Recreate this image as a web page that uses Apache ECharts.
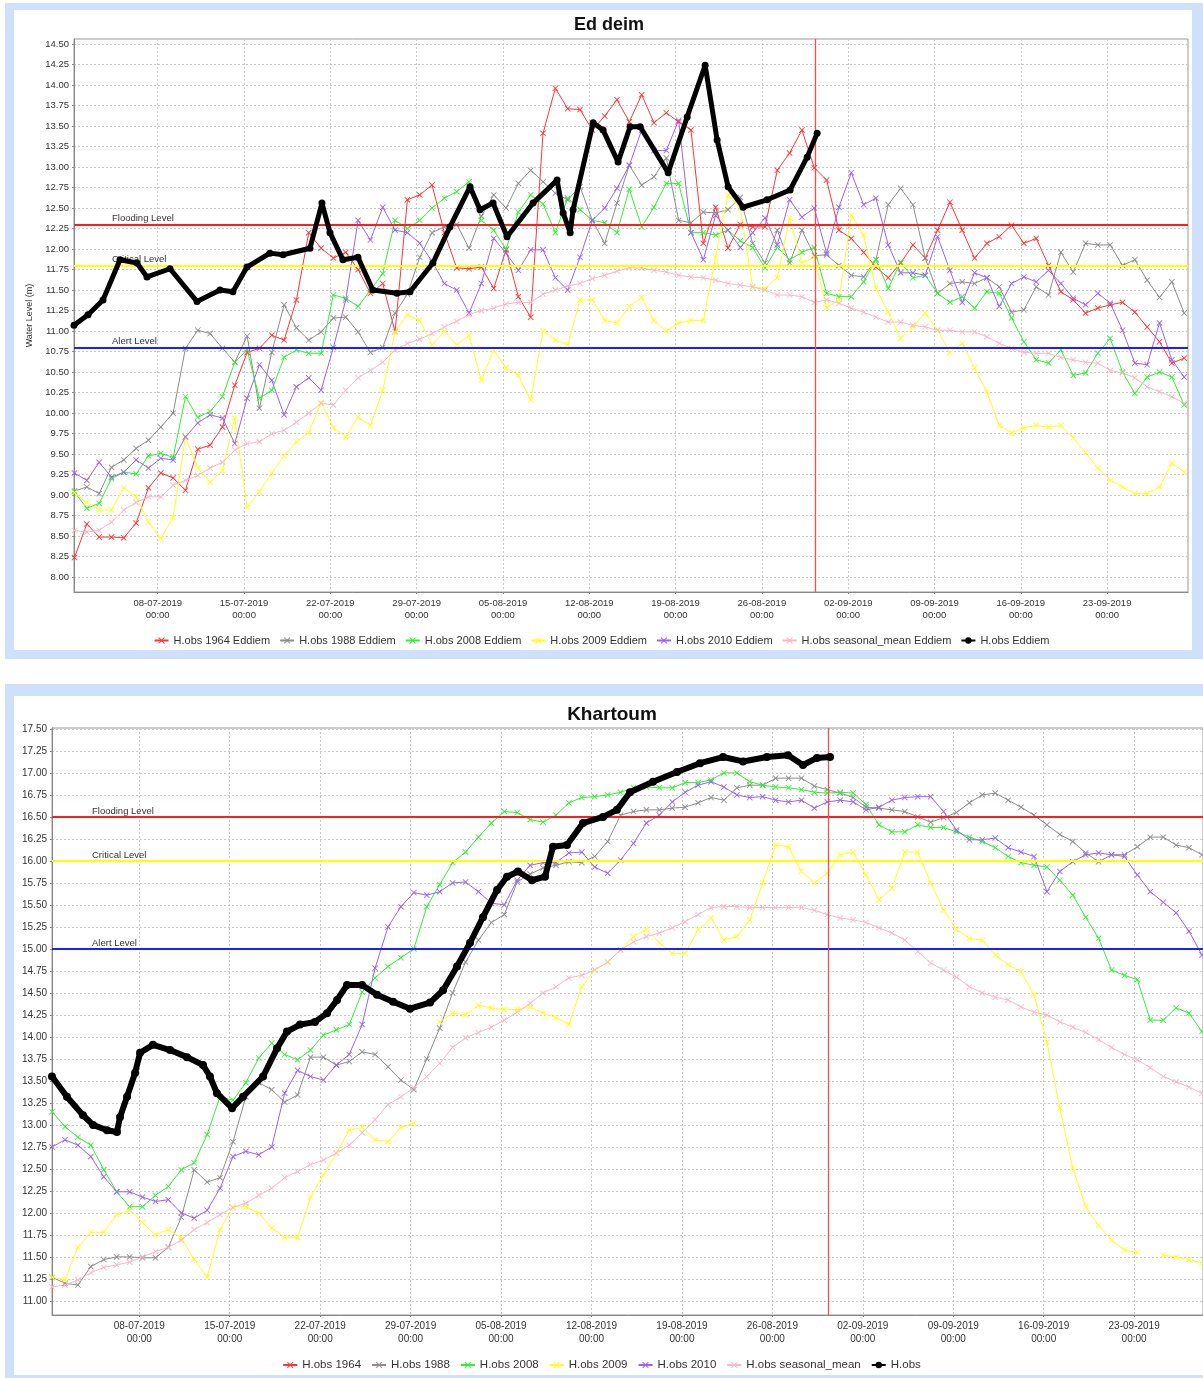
<!DOCTYPE html>
<html>
<head>
<meta charset="utf-8">
<title>Ed deim / Khartoum water levels</title>
<script src="https://cdn.jsdelivr.net/npm/echarts@6/dist/echarts.min.js"></script>
<style>
  html, body { margin: 0; padding: 0; background: #fff; }
  #main { width: 1203px; height: 1378px; }
</style>
</head>
<body>
<div id="main"></div>
<script>
// all times in UTC, day offsets counted from 01-07-2019 00:00
var DAY = 86400000
var START = Date.UTC(2019, 6, 1)
var NOW_MARK = Date.UTC(2019, 7, 30, 7, 12)   // red vertical line (last observation)

// ---------- Ed deim : one reading per day at 06:00, 01-07 .. 29-09 ----------
var edHist1964 = [8.24, 8.65, 8.49, 8.49, 8.48, 8.66, 9.09, 9.27, 9.21, 9.06,
  9.56, 9.61, 9.83, 10.34, 10.74, 10.79, 10.95, 10.89, 11.38, 12.20,
  12.01, 11.89, 11.96, 11.75, 11.46, 11.58, 10.99, 12.60, 12.66, 12.78,
  12.20, 11.77, 11.76, 11.78, 11.52, 11.99, 11.42, 11.17, 13.41, 13.96,
  13.71, 13.70, 13.45, 13.62, 13.82, 13.55, 13.88, 13.54, 13.66, 13.55,
  13.45, 12.07, 12.51, 12.01, 12.30, 12.27, 12.27, 12.96, 13.17, 13.45,
  12.99, 12.84, 12.23, 12.13, 11.96, 11.78, 11.65, 11.83, 12.05, 11.89,
  12.23, 12.57, 12.23, 11.89, 12.07, 12.15, 12.29, 12.07, 12.13, 11.80,
  11.48, 11.38, 11.22, 11.28, 11.32, 11.35, 11.23, 11.05, 10.87, 10.61,
  10.67]
var edHist1988 = [9.05, 9.10, 9.02, 9.34, 9.43, 9.57, 9.67, 9.83, 10.00, 10.79,
  11.01, 10.97, 10.79, 10.62, 10.94, 10.06, 10.74, 11.32, 11.04, 10.89,
  10.99, 11.16, 11.17, 10.99, 10.74, 10.80, 11.22, 11.45, 11.90, 12.20,
  12.27, 12.30, 12.01, 12.40, 12.66, 12.50, 12.80, 12.96, 12.82, 12.68,
  12.60, 12.76, 12.35, 12.07, 12.56, 13.02, 12.78, 12.88, 13.11, 12.35,
  12.32, 12.45, 12.44, 12.48, 12.63, 12.07, 11.83, 12.23, 11.83, 12.23,
  11.92, 11.93, 11.80, 11.68, 11.66, 11.87, 12.54, 12.74, 12.54, 11.89,
  11.46, 11.58, 11.60, 11.58, 11.65, 11.54, 11.23, 11.26, 11.54, 11.44,
  11.96, 11.72, 12.07, 12.05, 12.05, 11.80, 11.87, 11.62, 11.41, 11.60,
  11.22]
var edHist2008 = [9.04, 8.84, 8.90, 9.20, 9.28, 9.26, 9.48, 9.51, 9.46, 10.20,
  9.95, 10.02, 10.20, 10.62, 10.77, 10.18, 10.28, 10.68, 10.77, 10.73,
  10.73, 11.44, 11.40, 11.30, 11.50, 11.70, 12.35, 12.25, 12.35, 12.50,
  12.62, 12.70, 12.82, 12.35, 12.23, 12.00, 12.45, 12.66, 12.55, 12.20,
  12.62, 12.48, 12.35, 12.32, 12.20, 12.73, 12.27, 12.51, 12.80, 12.80,
  12.20, 12.20, 12.17, 12.23, 12.10, 12.02, 11.77, 12.02, 11.87, 11.96,
  12.02, 11.46, 11.42, 11.42, 11.60, 11.87, 11.52, 11.84, 11.65, 11.68,
  11.46, 11.35, 11.42, 11.28, 11.48, 11.46, 11.16, 10.87, 10.65, 10.61,
  10.77, 10.46, 10.49, 10.73, 10.91, 10.50, 10.24, 10.44, 10.50, 10.44,
  10.10]
var edHist2009 = [9.03, 8.91, 8.82, 8.82, 9.09, 8.98, 8.67, 8.47, 8.73, 9.71,
  9.33, 9.16, 9.30, 9.94, 8.85, 9.04, 9.27, 9.48, 9.65, 9.76,
  10.13, 9.82, 9.71, 9.95, 9.85, 10.28, 10.99, 11.20, 11.13, 10.83,
  11.00, 10.83, 10.95, 10.40, 10.77, 10.55, 10.46, 10.16, 11.00, 10.89,
  10.83, 11.38, 11.38, 11.13, 11.10, 11.30, 11.41, 11.13, 11.00, 11.10,
  11.13, 11.13, 11.90, 12.66, 12.50, 11.54, 11.52, 11.65, 12.38, 11.83,
  11.90, 11.29, 11.38, 12.41, 12.17, 11.52, 11.23, 10.91, 11.05, 11.22,
  11.01, 10.74, 10.85, 10.55, 10.26, 9.85, 9.76, 9.82, 9.85, 9.83,
  9.85, 9.70, 9.52, 9.33, 9.18, 9.10, 9.02, 9.02, 9.10, 9.39,
  9.28]
var edHist2010 = [9.27, 9.18, 9.40, 9.22, 9.28, 9.43, 9.33, 9.45, 9.43, 9.71,
  9.88, 9.98, 9.94, 9.63, 10.18, 10.59, 10.40, 9.98, 10.32, 10.43,
  10.28, 10.80, 11.38, 12.35, 12.11, 12.51, 12.23, 12.20, 12.07, 11.85,
  11.58, 11.50, 11.22, 11.58, 12.13, 11.95, 11.74, 11.99, 11.99, 11.65,
  11.50, 11.90, 12.35, 12.50, 12.74, 13.02, 13.45, 13.20, 13.20, 13.57,
  12.20, 11.87, 12.41, 12.23, 12.02, 12.20, 12.38, 12.05, 12.60, 12.39,
  12.50, 11.95, 12.51, 12.93, 12.54, 12.62, 12.05, 11.71, 11.71, 11.68,
  12.15, 11.74, 11.35, 11.71, 11.65, 11.30, 11.58, 11.66, 11.60, 11.74,
  11.58, 11.40, 11.32, 11.46, 11.34, 11.01, 10.61, 10.59, 11.10, 10.65,
  10.44]
var edSeasonal = [8.57, 8.55, 8.57, 8.67, 8.82, 8.91, 8.98, 8.98, 9.12, 9.18,
  9.24, 9.33, 9.40, 9.55, 9.63, 9.65, 9.75, 9.79, 9.89, 10.00,
  10.12, 10.10, 10.28, 10.43, 10.52, 10.62, 10.77, 10.85, 10.90, 10.97,
  11.05, 11.12, 11.20, 11.25, 11.28, 11.33, 11.35, 11.35, 11.45, 11.50,
  11.55, 11.58, 11.64, 11.68, 11.73, 11.77, 11.77, 11.74, 11.72, 11.68,
  11.66, 11.65, 11.62, 11.58, 11.56, 11.54, 11.50, 11.44, 11.44, 11.42,
  11.35, 11.38, 11.34, 11.28, 11.23, 11.17, 11.11, 11.11, 11.07, 11.05,
  11.01, 11.01, 10.99, 10.99, 10.93, 10.85, 10.79, 10.74, 10.73, 10.73,
  10.68, 10.65, 10.62, 10.61, 10.52, 10.49, 10.43, 10.32, 10.26, 10.20,
  10.12]
// H.obs Eddiem : [day offset, level]
var edObs = [[0.21, 11.07], [1.35, 11.20], [2.56, 11.38], [3.94, 11.87], [5.32, 11.83],
  [6.13, 11.66], [8.00, 11.76], [10.19, 11.36], [12.05, 11.50], [13.10, 11.48],
  [14.24, 11.78], [16.10, 11.95], [17.16, 11.93], [19.35, 12.01], [20.32, 12.56],
  [20.97, 12.20], [22.02, 11.87], [23.24, 11.90], [24.45, 11.50], [26.40, 11.46],
  [27.46, 11.48], [29.32, 11.83], [30.70, 12.27], [32.33, 12.76], [33.14, 12.48],
  [34.20, 12.56], [35.33, 12.15], [37.44, 12.56], [39.39, 12.84], [39.88, 12.44],
  [40.45, 12.20], [40.69, 12.48], [42.31, 13.54], [43.12, 13.45], [44.34, 13.06],
  [45.31, 13.49], [46.13, 13.49], [48.40, 12.93], [49.94, 13.61], [51.40, 14.24],
  [52.37, 13.33], [53.26, 12.76], [54.48, 12.51], [56.42, 12.60], [58.29, 12.72],
  [59.67, 13.12], [60.48, 13.41]]

// ---------- Khartoum ----------
var khHist1964 = []
var khHist1988 = [11.27, 11.20, 11.18, 11.39, 11.47, 11.50, 11.50, 11.49, 11.49, 11.61,
  11.95, 12.49, 12.35, 12.40, 12.81, 13.32, 13.48, 13.40, 13.26, 13.34,
  13.77, 13.77, 13.68, 13.72, 13.83, 13.80, 13.66, 13.51, 13.40, 13.75,
  14.10, 14.50, 14.85, 15.10, 15.30, 15.39, 15.76, 15.85, 15.92, 15.95,
  15.99, 15.98, 16.05, 16.22, 16.52, 16.56, 16.58, 16.58, 16.60, 16.61,
  16.66, 16.72, 16.69, 16.83, 16.86, 16.86, 16.94, 16.94, 16.94, 16.85,
  16.81, 16.77, 16.72, 16.61, 16.60, 16.58, 16.56, 16.50, 16.44, 16.49,
  16.55, 16.66, 16.75, 16.77, 16.69, 16.61, 16.52, 16.41, 16.30, 16.22,
  16.09, 15.99, 16.07, 16.07, 16.16, 16.27, 16.27, 16.18, 16.15, 16.07]
var khHist2008 = [13.15, 12.98, 12.86, 12.77, 12.49, 12.24, 12.07, 12.07, 12.20, 12.30,
  12.49, 12.57, 12.89, 13.32, 13.28, 13.48, 13.76, 13.93, 13.80, 13.74,
  13.85, 14.02, 14.08, 14.14, 14.51, 14.67, 14.80, 14.90, 15.00, 15.48,
  15.73, 15.98, 16.10, 16.27, 16.43, 16.56, 16.55, 16.47, 16.44, 16.52,
  16.66, 16.72, 16.73, 16.75, 16.78, 16.83, 16.84, 16.83, 16.83, 16.89,
  16.89, 16.92, 17.00, 17.00, 16.90, 16.86, 16.84, 16.83, 16.81, 16.78,
  16.77, 16.78, 16.77, 16.64, 16.41, 16.33, 16.33, 16.41, 16.38, 16.38,
  16.33, 16.27, 16.22, 16.15, 16.05, 15.98, 15.95, 15.93, 15.78, 15.61,
  15.36, 15.12, 14.76, 14.70, 14.65, 14.19, 14.19, 14.33, 14.27, 14.06]
var khHist2009 = [11.27, 11.24, 11.61, 11.78, 11.78, 11.98, 12.03, 11.89, 11.75, 11.81,
  11.72, 11.47, 11.27, 11.81, 12.07, 12.07, 12.00, 11.83, 11.72, 11.72,
  12.18, 12.43, 12.68, 12.94, 12.97, 12.83, 12.81, 12.97, 13.02, null,
  14.17, 14.27, 14.25, 14.36, 14.33, 14.31, 14.31, 14.34, 14.27, 14.22,
  14.14, 14.57, 14.76, 14.85, 14.99, 15.14, 15.22, 15.07, 14.95, 14.95,
  15.22, 15.35, 15.10, 15.14, 15.33, 15.75, 16.18, 16.16, 15.88, 15.75,
  15.86, 16.07, 16.10, 15.84, 15.56, 15.69, 16.10, 16.10, 15.75, 15.44,
  15.22, 15.12, 15.10, 14.93, 14.82, 14.74, 14.48, 13.94, 13.19, 12.51,
  12.07, 11.86, 11.69, 11.58, 11.55, null, 11.52, 11.50, 11.47, 11.43]
var khHist2010 = [12.75, 12.83, 12.77, 12.64, 12.41, 12.24, 12.24, 12.18, 12.13, 12.15,
  12.00, 11.94, 12.03, 12.28, 12.64, 12.70, 12.66, 12.75, 13.36, 13.62,
  13.55, 13.51, 13.68, 13.80, 14.14, 14.78, 15.25, 15.48, 15.64, 15.61,
  15.65, 15.75, 15.76, 15.65, 15.52, 15.50, 15.78, 15.95, 15.98, 15.98,
  16.09, 16.10, 15.93, 15.86, 16.01, 16.20, 16.43, 16.52, 16.67, 16.78,
  16.86, 16.90, 16.84, 16.75, 16.72, 16.73, 16.69, 16.67, 16.69, 16.60,
  16.67, 16.69, 16.67, 16.58, 16.61, 16.69, 16.72, 16.73, 16.73, 16.56,
  16.35, 16.24, 16.24, 16.26, 16.15, 16.10, 16.05, 15.65, 15.88, 15.99,
  16.07, 16.09, 16.07, 16.05, 15.84, 15.65, 15.53, 15.41, 15.20, 14.93]
var khSeasonal = [11.16, 11.18, 11.24, 11.32, 11.38, 11.41, 11.44, 11.50, 11.56, 11.61,
  11.69, 11.81, 11.89, 11.98, 12.06, 12.11, 12.20, 12.28, 12.40, 12.47,
  12.55, 12.60, 12.68, 12.77, 12.91, 13.06, 13.23, 13.32, 13.42, 13.55,
  13.70, 13.88, 13.99, 14.05, 14.11, 14.19, 14.28, 14.38, 14.50, 14.57,
  14.67, 14.70, 14.76, 14.85, 14.99, 15.08, 15.14, 15.18, 15.24, 15.31,
  15.39, 15.47, 15.48, 15.48, 15.47, 15.47, 15.47, 15.47, 15.47, 15.44,
  15.39, 15.35, 15.33, 15.30, 15.24, 15.18, 15.10, 14.97, 14.84, 14.76,
  14.68, 14.57, 14.50, 14.45, 14.42, 14.34, 14.28, 14.25, 14.17, 14.11,
  14.05, 13.97, 13.88, 13.80, 13.74, 13.65, 13.55, 13.49, 13.43, 13.36]
var khObs = [[0.24, 13.55], [1.40, 13.32], [2.64, 13.11], [3.42, 13.00], [4.50, 12.94],
  [5.27, 12.92], [5.51, 13.09], [6.05, 13.32], [6.67, 13.59], [7.06, 13.82],
  [8.06, 13.91], [9.38, 13.85], [10.69, 13.77], [11.93, 13.68], [12.47, 13.55],
  [13.01, 13.36], [14.18, 13.19], [15.03, 13.32], [16.58, 13.55], [17.66, 13.87],
  [18.43, 14.06], [19.44, 14.14], [20.60, 14.17], [21.53, 14.27], [22.31, 14.42],
  [23.08, 14.59], [24.24, 14.59], [25.40, 14.48], [26.64, 14.40], [27.95, 14.32],
  [29.50, 14.39], [30.51, 14.53], [31.59, 14.80], [32.60, 15.07], [33.60, 15.36],
  [34.69, 15.67], [35.46, 15.82], [36.31, 15.88], [37.40, 15.78], [38.40, 15.82],
  [39.02, 16.16], [40.10, 16.18], [41.34, 16.43], [42.89, 16.50], [43.97, 16.58],
  [44.98, 16.78], [46.76, 16.90], [48.62, 17.01], [50.40, 17.11], [52.18, 17.18],
  [53.73, 17.13], [55.58, 17.18], [57.21, 17.20], [58.37, 17.09], [59.45, 17.17],
  [60.46, 17.18]]

// warning levels
var levelNames = ['Flooding Level', 'Critical Level', 'Alert Level']
var levelColors = ['#ff1e1e', '#ffff00', '#1e1eff']
var edLevels = [12.30, 11.80, 10.80]
var khLevels = [16.50, 16.00, 15.00]

var seriesColors = ['#ff3535', '#8c8c8c', '#33ee33', '#ffff1a', '#9a62f5', '#f7b8c8', '#000000']
var edNames = ['H.obs 1964 Eddiem', 'H.obs 1988 Eddiem', 'H.obs 2008 Eddiem', 'H.obs 2009 Eddiem',
  'H.obs 2010 Eddiem', 'H.obs seasonal_mean Eddiem', 'H.obs Eddiem']
var khNames = ['H.obs 1964', 'H.obs 1988', 'H.obs 2008', 'H.obs 2009',
  'H.obs 2010', 'H.obs seasonal_mean', 'H.obs']

// axis ticks
var weekTicks = []
for (var k = 0; k < 12; k++) weekTicks.push(Date.UTC(2019, 6, 8) + k * 7 * DAY)
var edTicks = []
for (var t = 800; t <= 1450; t += 25) edTicks.push(t / 100)
var khTicks = []
for (var t2 = 1100; t2 <= 1750; t2 += 25) khTicks.push(t2 / 100)

var FONT = 'Liberation Sans, Arial, sans-serif'
var CROSS = 'path://M0,1L1,0L5,4L9,0L10,1L6,5L10,9L9,10L5,6L1,10L0,9L4,5Z'

function daily(arr) {
  return arr.map(function (v, i) { return [START + (i + 0.25) * DAY, v] })
}
function obs(arr) {
  return arr.map(function (p) { return [START + p[0] * DAY, p[1]] })
}
function pad(n) { return n < 10 ? '0' + n : '' + n }

function histSeries(name, data, color, idx) {
  return {
    name: name, type: 'line', xAxisIndex: idx, yAxisIndex: idx,
    data: daily(data),
    symbol: CROSS, symbolSize: 6, showSymbol: true,
    lineStyle: { width: 1, color: color },
    itemStyle: { color: color },
    connectNulls: false, z: 3
  }
}
function obsSeries(name, data, idx, w) {
  return {
    name: name, type: 'line', xAxisIndex: idx, yAxisIndex: idx,
    data: obs(data),
    symbol: 'circle', symbolSize: w + 2, showSymbol: true,
    lineStyle: { width: w, color: '#000' },
    itemStyle: { color: '#000' },
    z: 6
  }
}
function levelSeries(levels, idx, fs, padLeft) {
  var lines = levels.map(function (v, i) {
    return { name: levelNames[i], yAxis: v, lineStyle: { color: levelColors[i], width: 2, type: 'solid' } }
  })
  lines.push({ name: 'now', xAxis: NOW_MARK, lineStyle: { color: '#ff4a4a', width: 1.3, type: 'solid', opacity: 1 }, label: { show: false } })
  return {
    name: 'levels' + idx, type: 'line', xAxisIndex: idx, yAxisIndex: idx, data: [],
    z: 5,
    markLine: {
      silent: true, symbol: 'none', animation: false,
      label: {
        show: true, position: 'insideStartTop', formatter: '{b}', distance: 1,
        padding: [0, 0, 0, padLeft], color: '#333', fontSize: fs, fontFamily: FONT
      },
      data: lines
    }
  }
}

function xAxis(idx, fs, min, max) {
  return {
    type: 'value', gridIndex: idx,
    min: min, max: max,
    axisLine: { lineStyle: { color: '#888' } },
    axisTick: { customValues: weekTicks, length: 2, lineStyle: { color: '#888' } },
    axisLabel: {
      customValues: weekTicks, color: '#333', fontSize: fs, fontFamily: FONT, lineHeight: fs + 3, margin: 5,
      formatter: function (v) {
        var d = new Date(v)
        return pad(d.getUTCDate()) + '-' + pad(d.getUTCMonth() + 1) + '-' + d.getUTCFullYear() + '\n00:00'
      }
    },
    splitLine: { show: true, lineStyle: { color: '#c8c8c8', type: [2, 2] } }
  }
}
function yAxis(idx, min, max, ticks, fs, name) {
  return {
    type: 'value', gridIndex: idx, min: min, max: max,
    name: name, nameLocation: 'middle', nameGap: 26,
    nameTextStyle: { fontSize: 9, color: '#333', fontFamily: FONT },
    axisLine: { show: true, lineStyle: { color: '#888' } },
    axisTick: { show: true, customValues: ticks, length: 2, lineStyle: { color: '#888' } },
    axisLabel: {
      customValues: ticks, color: '#333', fontSize: fs, fontFamily: FONT, margin: 5,
      formatter: function (v) { return v.toFixed(2) }
    },
    splitLine: { show: true, lineStyle: { color: '#c8c8c8', type: [2, 2] } }
  }
}

var edHist = [edHist1964, edHist1988, edHist2008, edHist2009, edHist2010, edSeasonal]
var khHist = [khHist1964, khHist1988, khHist2008, khHist2009, khHist2010, khSeasonal]
var series = []
edHist.forEach(function (d, i) { series.push(histSeries(edNames[i], d, seriesColors[i], 0)) })
series.push(obsSeries(edNames[6], edObs, 0, 5))
series.push(levelSeries(edLevels, 0, 9.5, 37))
khHist.forEach(function (d, i) { series.push(histSeries(khNames[i], d, seriesColors[i], 1)) })
series.push(obsSeries(khNames[6], khObs, 1, 6))
series.push(levelSeries(khLevels, 1, 9.5, 39))

var chart = echarts.init(document.getElementById('main'), null, { renderer: 'canvas' })
var option = {
  animation: false,
  backgroundColor: '#fff',
  textStyle: { fontFamily: FONT },
  graphic: [
    { type: 'rect', z: -100, silent: true, shape: { x: 5, y: 3, width: 1198, height: 656 }, style: { fill: '#cfe0fb' } },
    { type: 'rect', z: -99, silent: true, shape: { x: 14, y: 10, width: 1178, height: 640 }, style: { fill: '#fff' } },
    { type: 'rect', z: -100, silent: true, shape: { x: 5, y: 684, width: 1198, height: 694 }, style: { fill: '#cfe0fb' } },
    { type: 'rect', z: -99, silent: true, shape: { x: 14, y: 696, width: 1189, height: 679 }, style: { fill: '#fff' } }
  ],
  title: [
    { text: 'Ed deim', left: 604, top: 11, textAlign: 'center',
      textStyle: { fontSize: 18, fontWeight: 'bold', color: '#111', fontFamily: FONT } },
    { text: 'Khartoum', left: 607, top: 700, textAlign: 'center',
      textStyle: { fontSize: 19, fontWeight: 'bold', color: '#111', fontFamily: FONT } }
  ],
  legend: [
    { data: edNames, left: 'center', top: 630, itemWidth: 14, itemHeight: 8, itemGap: 9,
      textStyle: { fontSize: 11, color: '#333', fontFamily: FONT } },
    { data: khNames, left: 'center', top: 1354, itemWidth: 14, itemHeight: 8, itemGap: 10,
      textStyle: { fontSize: 11.5, color: '#333', fontFamily: FONT } }
  ],
  grid: [
    { left: 74, right: 15, top: 39, bottom: 786, show: true, borderColor: '#999', borderWidth: 1 },
    { left: 52, right: 0, top: 728, bottom: 63, show: true, borderColor: '#999', borderWidth: 1 }
  ],
  // bottom panel is cut at the right edge of the picture, so its axis ends earlier
  xAxis: [
    xAxis(0, 9.5, START + 0.21 * DAY, START + 90.56 * DAY),
    xAxis(1, 10, START + 0.243 * DAY, START + 89.33 * DAY)
  ],
  yAxis: [
    yAxis(0, 7.82, 14.56, edTicks, 9.5, 'Water Level (m)'),
    yAxis(1, 10.84, 17.51, khTicks, 10, '')
  ],
  series: series
}
chart.setOption(option)
</script>
</body>
</html>
